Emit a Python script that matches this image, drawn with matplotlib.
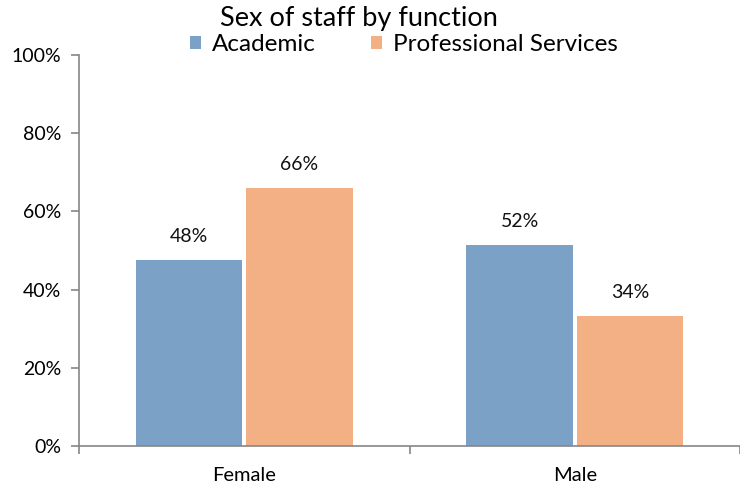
import matplotlib
matplotlib.use('Agg')
import matplotlib.pyplot as plt
import numpy as np

plt.rcParams['font.family'] = ['Lato', 'DejaVu Sans']

categories = ['Female', 'Male']
academic = [47.6, 51.5]
professional = [66.0, 33.2]
academic_labels = ['48%', '52%']
professional_labels = ['66%', '34%']

fig = plt.figure(figsize=(7.40, 4.87), dpi=100)
ax = fig.add_axes([0.1068, 0.0842, 0.8932, 0.8029])

x = np.array([0.5, 1.5])
w = 0.322
gap = 0.012
b1 = ax.bar(x - w/2 - gap/2, academic, w, color='#7CA1C6', label='Academic')
b2 = ax.bar(x + w/2 + gap/2, professional, w, color='#F3B084', label='Professional Services')

for bars, labs in [(b1, academic_labels), (b2, professional_labels)]:
    for r, lab in zip(bars, labs):
        ax.annotate(lab, (r.get_x() + r.get_width()/2, r.get_height()),
                    xytext=(0, 13), textcoords='offset points',
                    ha='center', va='baseline', fontsize=14, color='#111111')

ax.set_xlim(0, 2)
ax.set_ylim(0, 100)
ax.set_yticks(range(0, 101, 20))
ax.set_yticklabels([f'{v}%' for v in range(0, 101, 20)], fontsize=14)
ax.set_xticks(x)
ax.set_xticklabels(categories, fontsize=14.5)
ax.tick_params(axis='x', which='major', length=0, pad=15)
ax.set_xticks([0, 1, 2], minor=True)
ax.tick_params(axis='x', which='minor', length=6, color='#868686', width=1.2)
ax.tick_params(axis='y', length=6, color='#868686', width=1.2, pad=7)

for s in ['top', 'right']:
    ax.spines[s].set_visible(False)
for s in ['left', 'bottom']:
    ax.spines[s].set_color('#868686')
    ax.spines[s].set_linewidth(1.2)

fig.text(0.4845, 0.963, 'Sex of staff by function', ha='center', va='center', fontsize=19.5)
fig.legend(loc='center', bbox_to_anchor=(0.546, 0.908), ncol=2, frameon=False,
           fontsize=17.5, handlelength=0.45, handleheight=0.45, handletextpad=0.45,
           columnspacing=2.3, borderpad=0.1)

fig.savefig('out.png', dpi=100)
